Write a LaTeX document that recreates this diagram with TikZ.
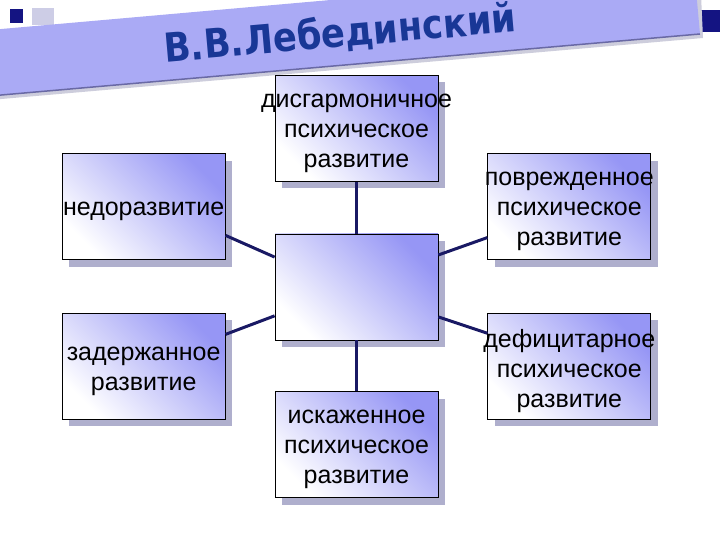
\documentclass[tikz,border=0pt]{standalone}
\usepackage{fontspec}
\setmainfont{Liberation Sans}
\newfontfamily\titlefont{DejaVu Sans}
\usetikzlibrary{positioning,calc,shadows}

\definecolor{bandfill}{RGB}{170,170,245}
\definecolor{bandedge}{RGB}{105,105,165}
\definecolor{bandshade}{RGB}{205,205,220}
\definecolor{titleblue}{RGB}{25,55,150}
\definecolor{boxlav}{RGB}{150,150,245}
\definecolor{boxshade}{RGB}{175,175,205}
\definecolor{linknavy}{RGB}{25,25,100}
\definecolor{marknavy}{RGB}{20,20,130}
\definecolor{marklight}{RGB}{205,205,230}

\begin{document}
\begin{tikzpicture}[
  x=1pt, y=1pt,
  kind/.style={draw=black, line width=0.8pt, minimum width=163pt, minimum height=106pt, inner sep=0pt,
    top color=boxlav, bottom color=white, shading angle=-45,
    drop shadow={shadow xshift=7pt, shadow yshift=-7pt, fill=boxshade, opacity=1}},
  kindtext/.style={align=center, yshift=-5pt, font=\fontsize{25}{30}\selectfont},
  link/.style={draw=linknavy, line width=3pt},
  title/.style={font=\titlefont\bfseries\fontsize{40}{44}\selectfont, text=titleblue}
]
\clip (0,0) rectangle (720,540);
\fill[white] (0,0) rectangle (720,540);

\fill[marknavy] (10,517) rectangle (23,531);
\fill[marklight] (32,515) rectangle (54,532);
\fill[marknavy] (698,508) rectangle (720,530);

\fill[bandshade] (-10,505) -- (700,567) -- (703,502) -- (-10,440) -- cycle;
\fill[bandfill] (-10,510) -- (694,572) -- (700,506) -- (-10,444) -- cycle;
\draw[bandedge, line width=1.5pt] (-10,444) -- (700,506);
\node[title, rotate=5, xscale=.88] (ttl) at (340,506) {В.В.Лебединский};

\node[kind] (ctr) at (356.5,253) {};
\node[kind, above=52pt of ctr] (disg) {};
\node[kind, below=51pt of ctr] (iskaz) {};
\node[kind, above left=27pt and 49pt of ctr.west] (nedor) {};
\node[kind, below left=26pt and 49pt of ctr.west] (zader) {};
\node[kind, above right=27pt and 49pt of ctr.east] (povr) {};
\node[kind, below right=26pt and 49pt of ctr.east] (defic) {};

\node[kindtext] (disg-t) at (disg) {дисгармоничное\\психическое\\развитие};
\node[kindtext] (iskaz-t) at (iskaz) {искаженное\\психическое\\развитие};
\node[kindtext] (nedor-t) at (nedor) {недоразвитие};
\node[kindtext] (zader-t) at (zader) {задержанное\\развитие};
\node[kindtext] (povr-t) at (povr) {поврежденное\\психическое\\развитие};
\node[kindtext] (defic-t) at (defic) {дефицитарное\\психическое\\развитие};

\draw[link] (disg) -- (ctr);
\draw[link] (ctr) -- (iskaz);
\draw[link] ($(ctr.north west)!.22!(ctr.south west)$) -- ($(nedor.north east)!.77!(nedor.south east)$);
\draw[link] ($(ctr.north west)!.77!(ctr.south west)$) -- ($(zader.north east)!.2!(zader.south east)$);
\draw[link] ($(ctr.north east)!.2!(ctr.south east)$) -- ($(povr.north west)!.79!(povr.south west)$);
\draw[link] ($(ctr.north east)!.78!(ctr.south east)$) -- ($(defic.north west)!.19!(defic.south west)$);

\end{tikzpicture}
\end{document}
